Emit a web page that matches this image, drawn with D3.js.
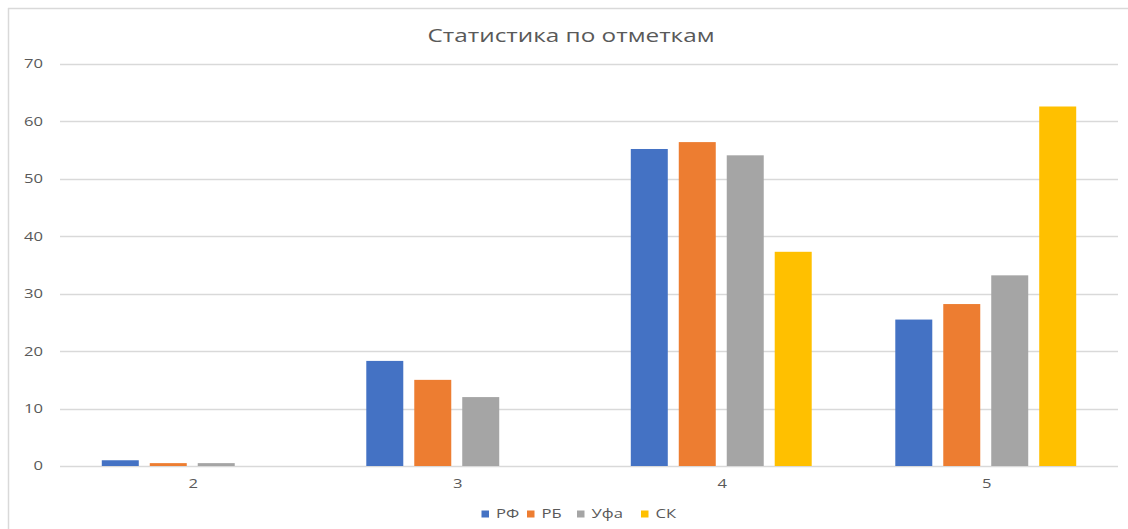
<!DOCTYPE html>
<html>
<head>
<meta charset="utf-8">
<script src="https://cdn.jsdelivr.net/npm/d3@7"></script>
<style>
  html, body { margin: 0; padding: 0; background: #fff; }
  svg { display: block; }
  text { font-family: "Open Sans", "DejaVu Sans", sans-serif; fill: #595959; }
</style>
</head>
<body>
<svg id="chart" width="1128" height="529"></svg>
<script>
const categories = ["2", "3", "4", "5"];
const seriesNames = ["РФ", "РБ", "Уфа", "СК"];
const seriesColors = ["#4472C4", "#ED7D31", "#A5A5A5", "#FFC000"];
const valuesRF  = [1.0, 18.3, 55.2, 25.5];
const valuesRB  = [0.5, 15.0, 56.4, 28.2];
const valuesUfa = [0.5, 12.0, 54.1, 33.2];
const valuesSK  = [0.0, 0.0, 37.3, 62.6];
const yTicks = [0, 10, 20, 30, 40, 50, 60, 70];
const titleText = "Статистика по отметкам";

(function () {
const seriesValues = [valuesRF, valuesRB, valuesUfa, valuesSK];
const svg = d3.select("#chart");
const SX = 1.33; // horizontal stretch of the reference text

// frame
svg.append("line").attr("x1", 8.5).attr("x2", 8.5).attr("y1", 8).attr("y2", 529)
  .attr("stroke", "#d9d9d9").attr("stroke-width", 1.5);
svg.append("line").attr("x1", 8).attr("x2", 1128).attr("y1", 8.5).attr("y2", 8.5)
  .attr("stroke", "#d9d9d9").attr("stroke-width", 1.5);

const pl = 60, pr = 1118, pt = 64, pb = 466;

const x = d3.scaleBand().domain(categories).range([pl, pr])
  .paddingInner(0.316).paddingOuter(0.158);
const xi = d3.scaleBand().domain(seriesNames).range([0, x.bandwidth()])
  .paddingInner(0.229).paddingOuter(0);
const y = d3.scaleLinear().domain([0, 70]).range([pb, pt]);

// gridlines
svg.append("g").selectAll("line").data(yTicks).join("line")
  .attr("x1", pl).attr("x2", pr)
  .attr("y1", d => Math.round(y(d)) + 0.5).attr("y2", d => Math.round(y(d)) + 0.5)
  .attr("stroke", "#d9d9d9").attr("stroke-width", 1.3);

// y labels
svg.append("g").selectAll("text").data(yTicks).join("text")
  .attr("transform", d => `translate(43,${y(d)}) scale(${SX},1)`)
  .attr("dy", "0.35em")
  .attr("text-anchor", "end").attr("font-size", 12.5).text(d => d);

// bars
const groups = svg.append("g").selectAll("g").data(categories).join("g")
  .attr("transform", c => `translate(${x(c)},0)`);
groups.selectAll("rect").data((c, ci) => seriesNames.map((s, si) => ({s, si, v: seriesValues[si][ci]})))
  .join("rect")
  .attr("x", d => xi(d.s)).attr("width", xi.bandwidth())
  .attr("y", d => y(d.v)).attr("height", d => y(0) - y(d.v))
  .attr("fill", d => seriesColors[d.si]);

// x labels
svg.append("g").selectAll("text").data(categories).join("text")
  .attr("transform", c => `translate(${x(c) + x.bandwidth() / 2 + 1},484) scale(${SX},1)`)
  .attr("dy", "0.35em")
  .attr("text-anchor", "middle").attr("font-size", 12.5).text(c => c);

// title
svg.append("text").attr("x", 571).attr("y", 35).attr("dy", "0.35em")
  .attr("text-anchor", "middle").attr("font-size", 19).attr("textLength", 287)
  .attr("lengthAdjust", "spacingAndGlyphs").text(titleText);

// legend
const legendX = [481.5, 527, 577, 641];
const leg = svg.append("g").selectAll("g").data(seriesNames).join("g")
  .attr("transform", (d, i) => `translate(${legendX[i]},514)`);
leg.append("rect").attr("x", 0).attr("y", -3.5).attr("width", 7.5).attr("height", 7)
  .attr("fill", (d, i) => seriesColors[i]);
leg.append("text").attr("transform", `translate(14.5,0) scale(${SX},1)`).attr("dy", "0.35em")
  .attr("font-size", 12.5).text(d => d);
})();
</script>
</body>
</html>
